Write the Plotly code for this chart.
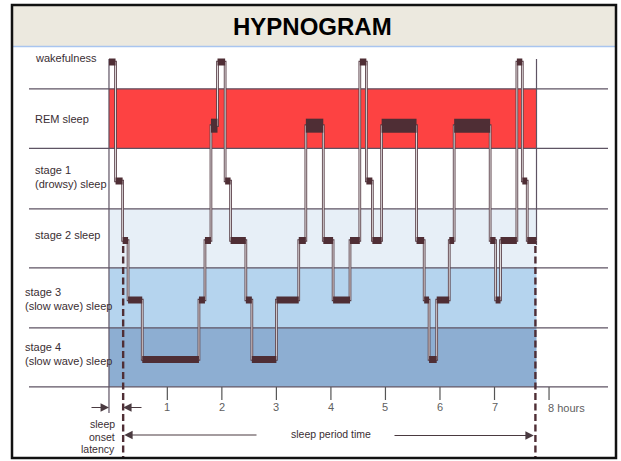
import plotly.graph_objects as go

# ---------------- data ----------------
stage_codes = ["W", "REM", "S1", "S2", "S3", "S4"]
stage_labels = ["wakefulness", "REM sleep", "stage 1<br>(drowsy) sleep", "stage 2 sleep",
                "stage 3<br>(slow wave) sleep", "stage 4<br>(slow wave) sleep"]

# hours at which each stage epoch begins/ends (35 epochs -> 36 bounds)
epoch_bounds = [-0.07, 0.05, 0.18, 0.28, 0.54, 1.58, 1.69, 1.80, 1.92, 2.06, 2.16, 2.44,
                2.55, 3.00, 3.41, 3.54, 3.86, 4.04, 4.35, 4.53, 4.65, 4.76, 4.93, 5.57,
                5.71, 5.80, 5.94, 6.17, 6.26, 6.92, 7.02, 7.11, 7.41, 7.51, 7.60, 7.77]
epoch_stages = ["W", "S1", "S2", "S3", "S4", "S3", "S2", "REM", "W", "S1", "S2", "S3",
                "S4", "S3", "S2", "REM", "S2", "S3", "S2", "W", "S1", "S2", "REM", "S2",
                "S3", "S4", "S3", "S2", "REM", "S2", "S3", "S2", "W", "S1", "S2"]

hour_ticks = [1, 2, 3, 4, 5, 6, 7, 8]
hour_labels = ["1", "2", "3", "4", "5", "6", "7", "8 hours"]

record_start = -0.07   # lights out
sleep_onset = 0.19
record_end = 7.77

title_text = "HYPNOGRAM"
latency_text = ["sleep", "onset", "latency"]
period_text = "sleep period time"

# ---------------- layout helpers ----------------
W, H = 621, 461
X0PX, PXH = 112.8, 54.53
Y0PX, PXV = 359.5, 59.5


def hx(px):
    return (px - X0PX) / PXH


def vy(py):
    return (Y0PX - py) / PXV


level = {"W": 5.0, "REM": 3.93, "S1": 3.0, "S2": 2.0, "S3": 1.0, "S4": 0.0}
band_edges = {"REM": (3.55, 4.55), "S1": (2.53, 3.55),
              "S2": (1.54, 2.53), "S3": (0.53, 1.54), "S4": (-0.46, 0.53)}
band_fill = {"REM": "#FD4242", "S2": "#E7EFF7", "S3": "#B5D4EE", "S4": "#8DAED2"}
label_pos = {"W": (33, 58), "REM": (33, 119), "S1": (33, 177), "S2": (33, 235),
             "S3": (23, 298.5), "S4": (23, 354)}

DARK = "#4F2E35"
TUBE = "#5A4049"
LINE = "#5E5363"
TXT = "#3A2E33"
FONT = "Liberation Sans, Arial, sans-serif"

fig = go.Figure()

# hypnogram tube (outlined step path)
ys = [level[s] for s in epoch_stages] + [level[epoch_stages[-1]]]
fig.add_trace(go.Scatter(x=epoch_bounds, y=ys, mode="lines", line_shape="hv",
                         line=dict(color=TUBE, width=2.7), hoverinfo="skip", showlegend=False))
fig.add_trace(go.Scatter(x=epoch_bounds, y=ys, mode="lines", line_shape="hv",
                         line=dict(color="rgba(255,255,255,0.8)", width=1.0),
                         hoverinfo="skip", showlegend=False))

# thick blocks at each stage
for code in stage_codes:
    bx, by = [], []
    for i, s in enumerate(epoch_stages):
        if s == code:
            bx += [epoch_bounds[i], epoch_bounds[i + 1], None]
            by += [level[s], level[s], None]
    if bx:
        fig.add_trace(go.Scatter(x=bx, y=by, mode="lines",
                                 line=dict(color=DARK, width=14 if code == "REM" else 7),
                                 hoverinfo="skip", showlegend=False))

shapes = []
# title band
shapes.append(dict(type="rect", xref="x", yref="y", x0=hx(12), x1=hx(616), y0=vy(46), y1=vy(5),
                   fillcolor="#ECE9DF", line=dict(width=0), layer="below"))
shapes.append(dict(type="line", xref="x", yref="y", x0=hx(12), x1=hx(616), y0=vy(46.5), y1=vy(46.5),
                   line=dict(color="#A9C5EF", width=1.5), layer="below"))
# coloured stage bands
for code, col in band_fill.items():
    lo, hi = band_edges[code]
    shapes.append(dict(type="rect", xref="x", yref="y", x0=record_start, x1=record_end,
                       y0=lo, y1=hi, fillcolor=col, line=dict(width=0), layer="below"))
# horizontal separators
for e in [4.55, 3.55, 2.53, 1.54, 0.53, -0.46]:
    shapes.append(dict(type="line", xref="x", yref="y", x0=hx(29), x1=hx(608), y0=e, y1=e,
                       line=dict(color=LINE, width=1.2), layer="below"))
# record edges
shapes.append(dict(type="line", xref="x", yref="y", x0=record_start, x1=record_start,
                   y0=vy(59), y1=vy(413), line=dict(color=LINE, width=1.2), layer="below"))
shapes.append(dict(type="line", xref="x", yref="y", x0=record_end, x1=record_end,
                   y0=vy(59), y1=vy(245), line=dict(color=LINE, width=1.2), layer="below"))
# dashed onset / end lines
for xv in [sleep_onset, record_end - 0.02]:
    shapes.append(dict(type="line", xref="x", yref="y", x0=xv, x1=xv, y0=vy(246), y1=vy(457),
                       line=dict(color=DARK, width=2.4, dash="7px,3.5px"), layer="above"))
# tick marks
for t in hour_ticks:
    shapes.append(dict(type="line", xref="x", yref="y", x0=t, x1=t, y0=vy(387), y1=vy(400),
                       line=dict(color="#555555", width=1.2), layer="below"))
# outer frame
shapes.append(dict(type="rect", xref="x", yref="y", x0=hx(12), x1=hx(616), y0=vy(458), y1=vy(5),
                   line=dict(color="#111111", width=2.5), fillcolor="rgba(0,0,0,0)", layer="above"))

ann = []
ann.append(dict(x=hx(312.5), y=vy(26.5), xref="x", yref="y", text="<b>" + title_text + "</b>",
                showarrow=False, font=dict(family=FONT, size=24, color="#000000")))
for code, lab in zip(stage_codes, stage_labels):
    px, py = label_pos[code]
    ann.append(dict(x=hx(px), y=vy(py), xref="x", yref="y", text=lab, showarrow=False,
                    xanchor="left", yanchor="middle", align="left",
                    font=dict(family=FONT, size=11, color=TXT)))
for t, lab in zip(hour_ticks, hour_labels):
    if t == hour_ticks[-1]:
        ann.append(dict(x=t - 0.06, y=vy(408), xref="x", yref="y", text=lab, showarrow=False,
                        xanchor="left", font=dict(family=FONT, size=11, color="#606060")))
    else:
        ann.append(dict(x=t, y=vy(407), xref="x", yref="y", text=lab, showarrow=False,
                        font=dict(family=FONT, size=11, color="#606060")))
for i, word in enumerate(latency_text):
    ann.append(dict(x=hx(117), y=vy(424 + 12.65 * i), xref="x", yref="y", text=word,
                    showarrow=False, xanchor="right", font=dict(family=FONT, size=10.5, color=TXT)))
ann.append(dict(x=hx(330.5), y=vy(433.5), xref="x", yref="y", text=period_text, showarrow=False,
                font=dict(family=FONT, size=10.5, color=TXT)))


# arrows
def arrow(x_tip, x_tail, yv):
    return dict(x=x_tip, y=yv, ax=x_tail, ay=yv, xref="x", yref="y", axref="x", ayref="y",
                text="", showarrow=True, arrowhead=2, arrowsize=1.4, arrowwidth=1.2,
                arrowcolor="#4A3A40", standoff=0, startstandoff=0)


ann.append(arrow(record_start, hx(90), vy(407.5)))
ann.append(arrow(sleep_onset, hx(143), vy(407.5)))
ann.append(arrow(sleep_onset + 0.02, hx(258), vy(435)))
ann.append(arrow(record_end - 0.05, hx(393), vy(435.5)))

fig.update_layout(
    width=W, height=H, autosize=False,
    margin=dict(l=0, r=0, t=0, b=0),
    paper_bgcolor="white", plot_bgcolor="white",
    xaxis=dict(range=[hx(0), hx(W)], visible=False, fixedrange=True),
    yaxis=dict(range=[vy(H), vy(0)], visible=False, fixedrange=True),
    shapes=shapes, annotations=ann, showlegend=False,
)

fig.write_html("out.html", config={"displayModeBar": False},
               post_script="document.body.style.margin='0px';document.body.style.overflow='hidden';")
